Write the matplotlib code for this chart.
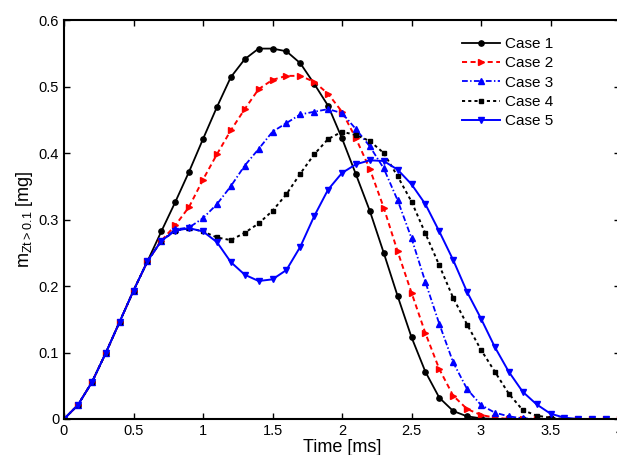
import numpy as np
import matplotlib
matplotlib.use("Agg")
import matplotlib.pyplot as plt
from matplotlib.ticker import FuncFormatter

plt.rcParams['font.family'] = ['Liberation Sans', 'DejaVu Sans']
plt.rcParams['mathtext.default'] = 'regular'

# time samples [ms], every 0.1 ms
t = np.round(np.arange(41) * 0.1, 1)

start = [0, 0.021, 0.055, 0.099, 0.146, 0.193, 0.237]

case1 = start + [0.282, 0.326, 0.372, 0.421, 0.469, 0.514, 0.541, 0.557, 0.557, 0.553,
                 0.535, 0.504, 0.471, 0.422, 0.368, 0.313, 0.250, 0.185, 0.123, 0.071,
                 0.032, 0.012, 0.004, 0.001] + [0] * 10
case2 = start + [0.268, 0.291, 0.319, 0.360, 0.398, 0.434, 0.466, 0.496, 0.510, 0.516,
                 0.516, 0.507, 0.489, 0.462, 0.422, 0.376, 0.318, 0.252, 0.190, 0.129,
                 0.075, 0.035, 0.015, 0.006, 0.002] + [0] * 9
case3 = start + [0.268, 0.285, 0.288, 0.302, 0.323, 0.350, 0.381, 0.406, 0.432, 0.445,
                 0.458, 0.462, 0.466, 0.460, 0.436, 0.410, 0.377, 0.329, 0.272, 0.206,
                 0.143, 0.085, 0.045, 0.021, 0.0095, 0.004, 0.001] + [0] * 7
case4 = start + [0.268, 0.283, 0.287, 0.282, 0.273, 0.269, 0.280, 0.294, 0.313, 0.338,
                 0.369, 0.398, 0.421, 0.432, 0.427, 0.418, 0.400, 0.365, 0.327, 0.279,
                 0.231, 0.182, 0.142, 0.104, 0.071, 0.038, 0.0135, 0.005, 0.002] + [0] * 5
case5 = start + [0.268, 0.283, 0.287, 0.282, 0.266, 0.236, 0.217, 0.2075, 0.210, 0.224,
                 0.259, 0.305, 0.345, 0.370, 0.383, 0.389, 0.388, 0.375, 0.353, 0.323,
                 0.282, 0.239, 0.191, 0.151, 0.108, 0.071, 0.041, 0.022, 0.008, 0.002] + [0] * 4

labels = ['Case 1', 'Case 2', 'Case 3', 'Case 4', 'Case 5']

fig = plt.figure(figsize=(6.17, 4.55), dpi=100)
ax = fig.add_axes([64 / 617, 36 / 455, 556 / 617, 399 / 455])

ax.plot(t, case1, '-', color='k', marker='o', ms=3.8, lw=1.3, label=labels[0])
ax.plot(t, case2, color='r', ls=(0, (2.6, 1.8)), marker='>', ms=4.7, lw=1.4, label=labels[1])
ax.plot(t, case3, color='b', ls=(0, (3.2, 1.3, 0.8, 1.3)), marker='^', ms=4.5, lw=1.3, label=labels[2])
ax.plot(t, case4, color='k', ls=(0, (1.6, 1.6)), marker='s', ms=3, lw=1.4, label=labels[3])
ax.plot(t, case5, '-', color='b', marker='v', ms=4.5, lw=1.4, label=labels[4])

ax.set_xlim(0, 4)
ax.set_ylim(0, 0.6)
ax.set_xticks(np.arange(0, 4.01, 0.5))
ax.set_yticks(np.arange(0, 0.61, 0.1))
ax.xaxis.set_major_formatter(FuncFormatter(lambda v, p: '%g' % round(v, 2)))
ax.yaxis.set_major_formatter(FuncFormatter(lambda v, p: '%g' % round(v, 2)))
ax.tick_params(direction='in', length=4, width=1, top=True, right=True, labelsize=10.5)
for s in ax.spines.values():
    s.set_linewidth(1.5)

ax.set_xlabel('Time [ms]', fontsize=13, labelpad=1)
ax.set_ylabel(r'm$_{Zt>0.1}$ [mg]', fontsize=13, labelpad=3)

ax.legend(loc='upper left', bbox_to_anchor=(462 / 617, 1 - 37 / 455),
          bbox_transform=fig.transFigure, frameon=False, fontsize=11,
          borderpad=0, borderaxespad=0, handlelength=2.5, handletextpad=0.3,
          labelspacing=0.35)

fig.savefig('out.png', dpi=100)
